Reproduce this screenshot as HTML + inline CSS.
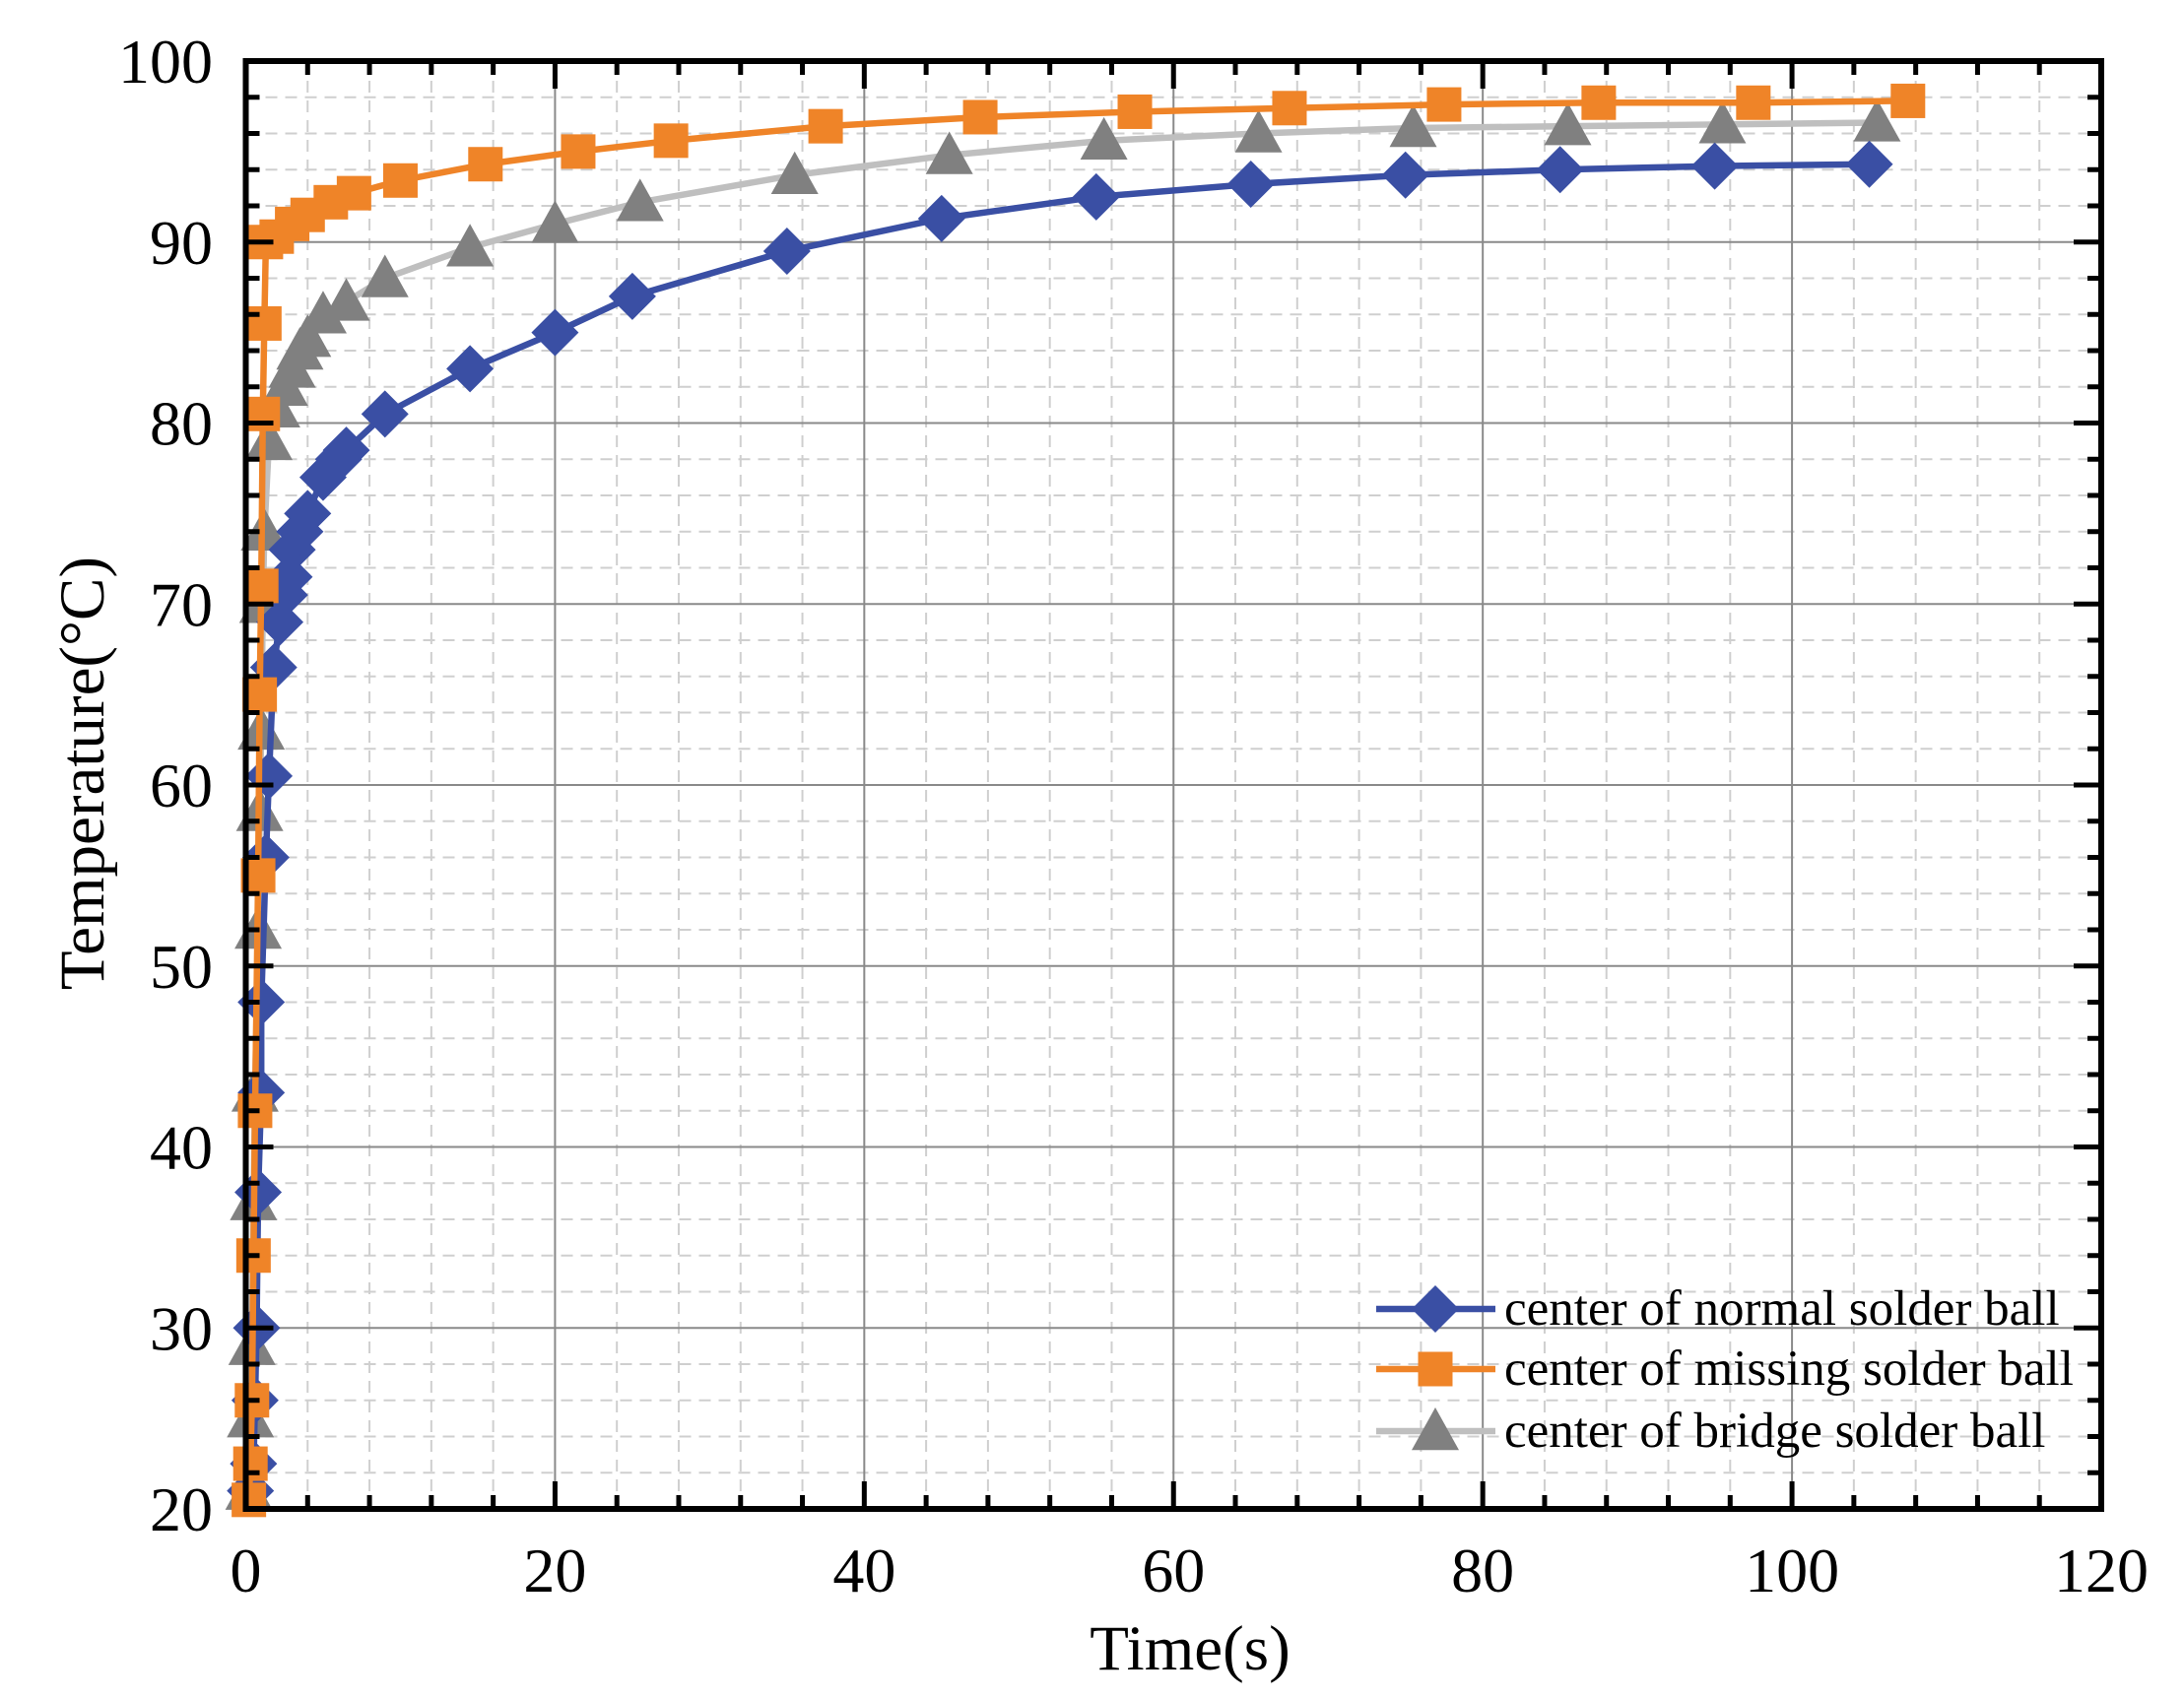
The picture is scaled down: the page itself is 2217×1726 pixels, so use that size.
<!DOCTYPE html>
<html><head><meta charset="utf-8"><style>
html,body{margin:0;padding:0;background:#fff}
svg{display:block}
text{font-family:"Liberation Serif",serif;fill:#000}
</style></head><body>
<svg id="chart" width="2217" height="1726" viewBox="0 0 2217 1726" xmlns="http://www.w3.org/2000/svg">
<g id="grid"></g>
<g id="series"></g>
<g id="axes"></g>
<g id="legend"></g>
<text x="1208" y="1695" font-size="65" text-anchor="middle">Time(s)</text>
<text transform="translate(105,785) rotate(-90)" font-size="65" text-anchor="middle">Temperature(°C)</text>
</svg>
<script>
const xTicks=[0,20,40,60,80,100,120];
const yTicks=[20,30,40,50,60,70,80,90,100];
const normalX=[0.3,0.5,0.6,0.7,0.8,1,1,1.3,1.5,1.8,2.2,2.5,2.8,3,3.5,4,5,6,6.5,9,14.5,20,25,35,45,55,65,75,85,95,105];
const normalY=[21,22.5,26,30,37.5,43,48,56,60.5,66.5,69,70.5,71.5,73,74,75,77,78,78.5,80.5,83,85,87,89.5,91.3,92.5,93.2,93.7,94,94.2,94.3];
const missingX=[0.2,0.3,0.4,0.5,0.6,0.8,0.9,1,1.1,1.2,1.3,2,3,4,5.5,7,10,15.5,21.5,27.5,37.5,47.5,57.5,67.5,77.5,87.5,97.5,107.5];
const missingY=[20.5,22.5,26,34,42,55,65,71,80.5,85.5,90,90.3,91,91.5,92.2,92.7,93.4,94.3,95,95.6,96.4,96.9,97.2,97.4,97.6,97.7,97.7,97.8];
const bridgeX=[0.2,0.3,0.4,0.5,0.6,0.8,0.9,1,1.1,1.2,1.5,2,2.5,3,3.5,4,5,6.5,9,14.5,20,25.5,35.5,45.5,55.5,65.5,75.5,85.5,95.5,105.5];
const bridgeY=[21,25,29,37,43,52,58.5,63,70,74,79,80.8,82,83,84,84.7,86,86.7,88,89.7,91,92.2,93.7,94.8,95.6,96,96.3,96.4,96.5,96.6];
const legendLabels=["center of normal solder ball","center of missing solder ball","center of bridge solder ball"];

const NS="http://www.w3.org/2000/svg";
const L=249.5,R=2133,T=62,B=1532;
const sx=v=>L+(v-0)/(120-0)*(R-L);
const sy=v=>B-(v-20)/(100-20)*(B-T);
function mk(tag,attrs,parent){const e=document.createElementNS(NS,tag);for(const k in attrs)e.setAttribute(k,attrs[k]);parent.appendChild(e);return e;}
const grid=document.getElementById('grid'),axes=document.getElementById('axes'),ser=document.getElementById('series'),leg=document.getElementById('legend');

for(let v=0;v<=120;v+=4){if(v%20===0)continue;const g=mk('line',{x1:sx(v),x2:sx(v),y1:T,y2:B,stroke:'#cfcfcf','stroke-width':2,'stroke-dasharray':'12,8'},grid);

}
for(let v=20;v<=100;v+=2){if(v%10===0)continue;const g=mk('line',{x1:L,x2:R,y1:sy(v),y2:sy(v),stroke:'#cfcfcf','stroke-width':2,'stroke-dasharray':'12,8'},grid);

}
xTicks.forEach(v=>{const g=mk('line',{x1:sx(v),x2:sx(v),y1:T,y2:B,stroke:'#8a8a8a','stroke-width':2},grid);

});
yTicks.forEach(v=>{const g=mk('line',{x1:L,x2:R,y1:sy(v),y2:sy(v),stroke:'#8a8a8a','stroke-width':2},grid);

});

function series(xs,ys,lineColor,markerColor,shape,name){
  const g=mk('g',{},ser);
  
  
  const pts=xs.map((x,i)=>sx(x)+','+sy(ys[i])).join(' ');
  mk('polyline',{points:pts,fill:'none',stroke:lineColor,'stroke-width':6.5,'stroke-linejoin':'round'},g);
  xs.forEach((x,i)=>{const m=marker(sx(x),sy(ys[i]),shape,markerColor,g);
  
  });
}
function marker(cx,cy,shape,color,g){
  if(shape==='diamond'){const r=24;return mk('polygon',{points:`${cx},${cy-r} ${cx+r},${cy} ${cx},${cy+r} ${cx-r},${cy}`,fill:color},g);}
  if(shape==='square'){const r=17.5;return mk('rect',{x:cx-r,y:cy-r,width:2*r,height:2*r,fill:color},g);}
  const r=24;return mk('polygon',{points:`${cx},${cy-r} ${cx+r},${cy+r*0.8} ${cx-r},${cy+r*0.8}`,fill:color},g);
}
series(bridgeX,bridgeY,'#bfbfbf','#808080','triangle','series-bridge');
series(normalX,normalY,'#3a4fa4','#3a4fa4','diamond','series-normal');
series(missingX,missingY,'#ef8428','#ef8428','square','series-missing');

const fr=mk('rect',{x:L,y:T,width:R-L,height:B-T,fill:'none',stroke:'#000','stroke-width':6},axes);


for(let v=0;v<=120;v+=4){const len=v%20===0?28:14;
 mk('line',{x1:sx(v),x2:sx(v),y1:B,y2:B-len,stroke:'#000','stroke-width':5},axes);
 mk('line',{x1:sx(v),x2:sx(v),y1:T,y2:T+len,stroke:'#000','stroke-width':5},axes);}
for(let v=20;v<=100;v+=2){const len=v%10===0?28:14;
 mk('line',{x1:L,x2:L+len,y1:sy(v),y2:sy(v),stroke:'#000','stroke-width':5},axes);
 mk('line',{x1:R,x2:R-len,y1:sy(v),y2:sy(v),stroke:'#000','stroke-width':5},axes);}
xTicks.forEach(v=>{const t=mk('text',{x:sx(v),y:1616,'font-size':64,'text-anchor':'middle'},axes);t.textContent=v;

});
yTicks.forEach(v=>{const t=mk('text',{x:216,y:sy(v)+22,'font-size':64,'text-anchor':'end'},axes);t.textContent=v;

});

const legY=[1329,1390,1453];
const legC=[['#3a4fa4','#3a4fa4','diamond'],['#ef8428','#ef8428','square'],['#bfbfbf','#808080','triangle']];
legendLabels.forEach((lab,i)=>{
 const g=mk('g',{},leg);
 
 
 mk('line',{x1:1397,x2:1518,y1:legY[i],y2:legY[i],stroke:legC[i][0],'stroke-width':6.5},g);
 marker(1457,legY[i],legC[i][2],legC[i][1],g);
 const t=mk('text',{x:1527,y:legY[i]+16,'font-size':51},g);t.textContent=lab;
});
</script>
</body></html>
